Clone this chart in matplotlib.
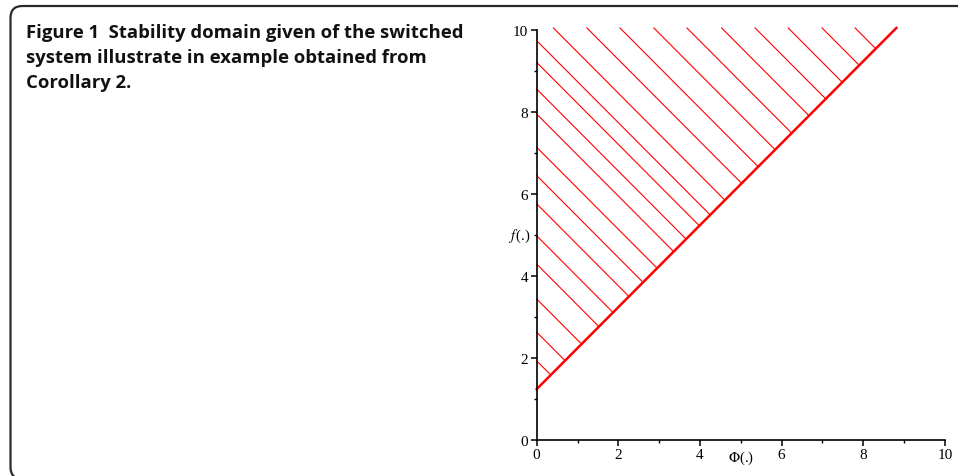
import matplotlib.pyplot as plt
from matplotlib.patches import FancyBboxPatch

# boundary of the stability domain: f = phi + offset, up to f = top
offset = 1.24
top = 10.05

# hatch lines phi + f = c (lines of slope -1 filling the region above the boundary)
hatch_left = [1.93, 2.63, 3.44, 4.29, 4.98, 5.76, 6.45, 7.14, 7.95, 8.56, 9.21, 9.74]
hatch_top = [10.46, 11.28, 12.09, 12.92, 13.73, 14.58, 15.40, 16.21, 17.04, 17.85]

major_ticks = [0, 2, 4, 6, 8, 10]
minor_ticks = [1, 3, 5, 7, 9]

caption_lines = ["Figure 1  Stability domain given of the switched",
                 "system illustrate in example obtained from",
                 "Corollary 2."]

fig = plt.figure(figsize=(9.58, 4.77), dpi=100)

# rounded frame around the figure panel
frame = FancyBboxPatch((0.105, -0.03), 10, 4.73,
                       boxstyle="round,pad=0,rounding_size=0.12",
                       transform=fig.dpi_scale_trans, fill=False,
                       ec='#2a2a2a', lw=1.6)
fig.add_artist(frame)

# caption, one line at a time for even spacing
for i, line in enumerate(caption_lines):
    fig.text(0.027, 0.930 - i * 0.0515, line, ha='left', va='center',
             fontsize=13.3, fontweight='bold', family='Open Sans',
             color='#111111')

ax = fig.add_axes([0.5602, 0.0755, 0.4262, 0.8595])
ax.set_xlim(0, 10)
ax.set_ylim(0, 10)

for c in hatch_left + hatch_top:
    if c <= top:
        x0, y0 = 0, c
    else:
        x0, y0 = c - top, top
    x1 = (c - offset) / 2
    y1 = x1 + offset
    ax.plot([x0, x1], [y0, y1], color='red', lw=0.8, clip_on=False)

ax.plot([0, top - offset], [offset, top], color='red', lw=1.8, clip_on=False)

for s in ['top', 'right']:
    ax.spines[s].set_visible(False)
for s in ['left', 'bottom']:
    ax.spines[s].set_linewidth(1.2)

ax.set_xticks(major_ticks)
ax.set_yticks(major_ticks)
ax.set_xticks(minor_ticks, minor=True)
ax.set_yticks(minor_ticks, minor=True)
ax.tick_params(which='major', length=4, width=1.1, labelsize=11, pad=2)
ax.tick_params(which='minor', length=2.5, width=1)
for lab in ax.get_xticklabels() + ax.get_yticklabels():
    lab.set_family('Liberation Serif')

ax.text(5, -0.42, r'$\Phi$(.)', ha='center', va='center', fontsize=10.5,
        family='Liberation Serif', math_fontfamily='stix')
ax.text(-0.42, 5, r'$f\,$(.)', ha='center', va='center', fontsize=10.5,
        family='Liberation Serif', math_fontfamily='stix')

fig.savefig('out.png', dpi=100)
